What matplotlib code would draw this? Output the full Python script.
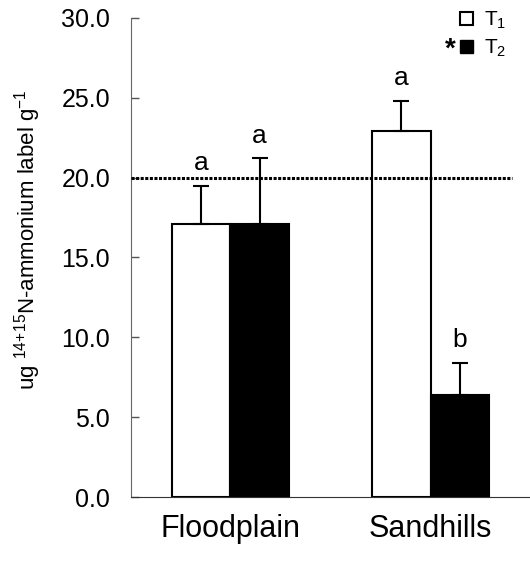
import numpy as np
import matplotlib.pyplot as plt
from matplotlib.patches import Patch

sites = ["Floodplain", "Sandhills"]
t1_mean = [17.1, 22.9]
t1_err = [2.35, 1.9]
t2_mean = [17.1, 6.4]
t2_err = [4.1, 2.0]
t1_letters = ["a", "a"]
t2_letters = ["a", "b"]
reference_level = 20.0
yticks = [0, 5, 10, 15, 20, 25, 30]

plt.rcParams['font.family'] = ['Liberation Sans', 'DejaVu Sans']
plt.rcParams['mathtext.fontset'] = 'custom'
plt.rcParams['mathtext.rm'] = 'Liberation Sans'
plt.rcParams['mathtext.it'] = 'Liberation Sans'

fig = plt.figure(figsize=(5.3, 5.61), dpi=100)
ax = fig.add_axes([0.247, 0.114, 0.753, 0.854])

x = np.arange(len(sites))
w = 0.293
zero = np.zeros(len(sites))
ax.bar(x - w/2, t1_mean, w, color="white", edgecolor="black", linewidth=1.5, zorder=2)
ax.bar(x + w/2, t2_mean, w, color="black", edgecolor="black", linewidth=1.5, zorder=2)
ax.errorbar(x - w/2, t1_mean, yerr=[zero, t1_err], fmt="none", ecolor="black",
            elinewidth=1.5, capsize=5.8, capthick=1.5, zorder=3)
ax.errorbar(x + w/2, t2_mean, yerr=[zero, t2_err], fmt="none", ecolor="black",
            elinewidth=1.5, capsize=5.8, capthick=1.5, zorder=3)

# significance letters above the error bars
for i in range(len(sites)):
    ax.text(x[i] - w/2, t1_mean[i] + t1_err[i] + 1.0, t1_letters[i],
            ha="center", va="baseline", fontsize=19)
    ax.text(x[i] + w/2, t2_mean[i] + t2_err[i] + 1.0, t2_letters[i],
            ha="center", va="baseline", fontsize=19)

ax.axhline(reference_level, xmax=0.955, color="black", linestyle=(0, (1, 0.5)),
           linewidth=2.2, zorder=4)

ax.set_xlim(-0.497, 1.497)
ax.set_ylim(0, 30)
ax.set_yticks(yticks)
ax.set_yticklabels([f"{v:.1f}" for v in yticks], fontsize=18)
ax.set_xticks(x)
ax.set_xticklabels(sites, fontsize=22)
ax.tick_params(axis="x", length=0, pad=12)
ax.tick_params(axis="y", direction="in", length=6, width=1, pad=15, color="#555555")
for s in ["top", "right"]:
    ax.spines[s].set_visible(False)
ax.spines["left"].set_color("#666666")
ax.spines["bottom"].set_color("#333333")

fig.text(0.052, 1 - 240/561,
         r"ug $\mathregular{^{14\!+\!15}}$N-ammonium label g$\mathregular{^{-1}}$",
         rotation=90, ha="center", va="center", fontsize=16)

handles = [Patch(facecolor="white", edgecolor="black", linewidth=1.5),
           Patch(facecolor="black", edgecolor="black")]
leg = fig.legend(handles, [r"T$\mathregular{_1}$", r"T$\mathregular{_2}$"],
                 loc="upper left", frameon=False, bbox_to_anchor=(0.868, 0.982),
                 borderpad=0, borderaxespad=0, handlelength=0.6, handleheight=0.6,
                 handletextpad=0.55, labelspacing=0.3, fontsize=15)
fig.text(0.850, 0.912, "*", fontsize=20, fontweight="bold", ha="center", va="center")

fig.savefig("out.png", dpi=100)
